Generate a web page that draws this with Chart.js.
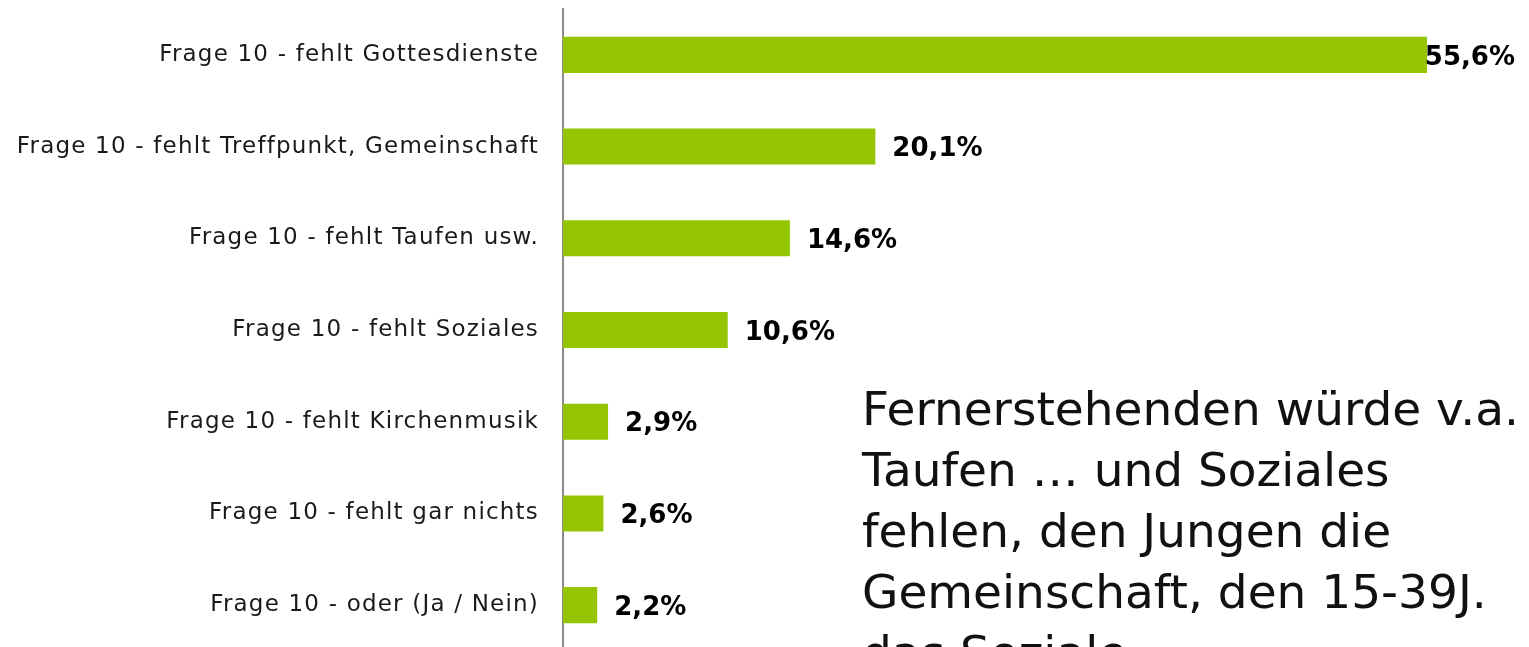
<!DOCTYPE html>
<html>
<head>
<meta charset="utf-8">
<script src="https://cdn.jsdelivr.net/npm/chart.js@4.4.1/dist/chart.umd.min.js"></script>
<style>
    html, body { margin: 0; padding: 0; background: #fff; overflow: hidden; }
    #wrap { position: relative; width: 1529px; height: 647px; overflow: hidden; }
    #myChart { position: absolute; left: 0; top: 0; }
    #note {
        position: absolute; left: 862px; top: 378px;
        font-family: "DejaVu Sans", sans-serif; font-size: 47px; line-height: 61px;
        color: #111; white-space: nowrap;
    }
</style>
</head>
<body>
<div id="wrap">
    <canvas id="myChart" width="1529" height="651"></canvas>
    <div id="note">Fernerstehenden würde v.a.<br>Taufen … und Soziales<br>fehlen, den Jungen die<br>Gemeinschaft, den 15-39J.<br>das Soziale</div>
</div>
<script>
const categories = [
    'Frage 10 - fehlt Gottesdienste',
    'Frage 10 - fehlt Treffpunkt, Gemeinschaft',
    'Frage 10 - fehlt Taufen usw.',
    'Frage 10 - fehlt Soziales',
    'Frage 10 - fehlt Kirchenmusik',
    'Frage 10 - fehlt gar nichts',
    'Frage 10 - oder (Ja / Nein)'
];
const values = [55.6, 20.1, 14.6, 10.6, 2.9, 2.6, 2.2];
const valueLabels = ['55,6%', '20,1%', '14,6%', '10,6%', '2,9%', '2,6%', '2,2%'];

// wider letters, closer to the original gothic face
const spacingPlugin = {
    id: 'spacing',
    beforeDraw(chart) {
        chart.ctx.letterSpacing = '1.2px';
    }
};

// draws the bold percentages next to the bars
const valueLabelPlugin = {
    id: 'valueLabels',
    afterDatasetsDraw(chart) {
        const ctx = chart.ctx;
        const meta = chart.getDatasetMeta(0);
        ctx.save();
        ctx.letterSpacing = '0px';
        ctx.font = 'bold 26px "DejaVu Sans", sans-serif';
        ctx.fillStyle = '#000';
        ctx.textBaseline = 'middle';
        meta.data.forEach((bar, i) => {
            const text = valueLabels[i];
            const w = ctx.measureText(text).width;
            let x = bar.x + 17;
            if (x + w > chart.width - 14) {
                x = chart.width - 14 - w;
            }
            ctx.fillText(text, x, bar.y + 3);
        });
        ctx.restore();
    }
};

const chartContext = document.getElementById('myChart').getContext('2d');
const chartConfig = {
    type: 'bar',
    data: {
        labels: categories,
        datasets: [{
            data: values,
            backgroundColor: '#93C500',
            borderWidth: 0,
            categoryPercentage: 1,
            barPercentage: 0.393
        }]
    },
    options: {
        indexAxis: 'y',
        responsive: false,
        animation: false,
        layout: { padding: { top: 9, right: 0, bottom: 0, left: 0 } },
        plugins: {
            legend: { display: false },
            tooltip: { enabled: false }
        },
        scales: {
            x: {
                display: false,
                min: 0,
                max: 62.16
            },
            y: {
                grid: { display: false, drawTicks: false },
                border: { display: true, color: '#8c8c8c', width: 2 },
                ticks: {
                    padding: 24,
                    color: '#1a1a1a',
                    font: { family: '"DejaVu Sans", sans-serif', size: 23 }
                },
                afterFit(scale) {
                    scale.width = 563;
                    scale.paddingTop = 0;
                    scale.paddingBottom = 0;
                }
            }
        }
    },
    plugins: [spacingPlugin, valueLabelPlugin]
};

const myChart = new Chart(chartContext, chartConfig);
</script>
</body>
</html>
